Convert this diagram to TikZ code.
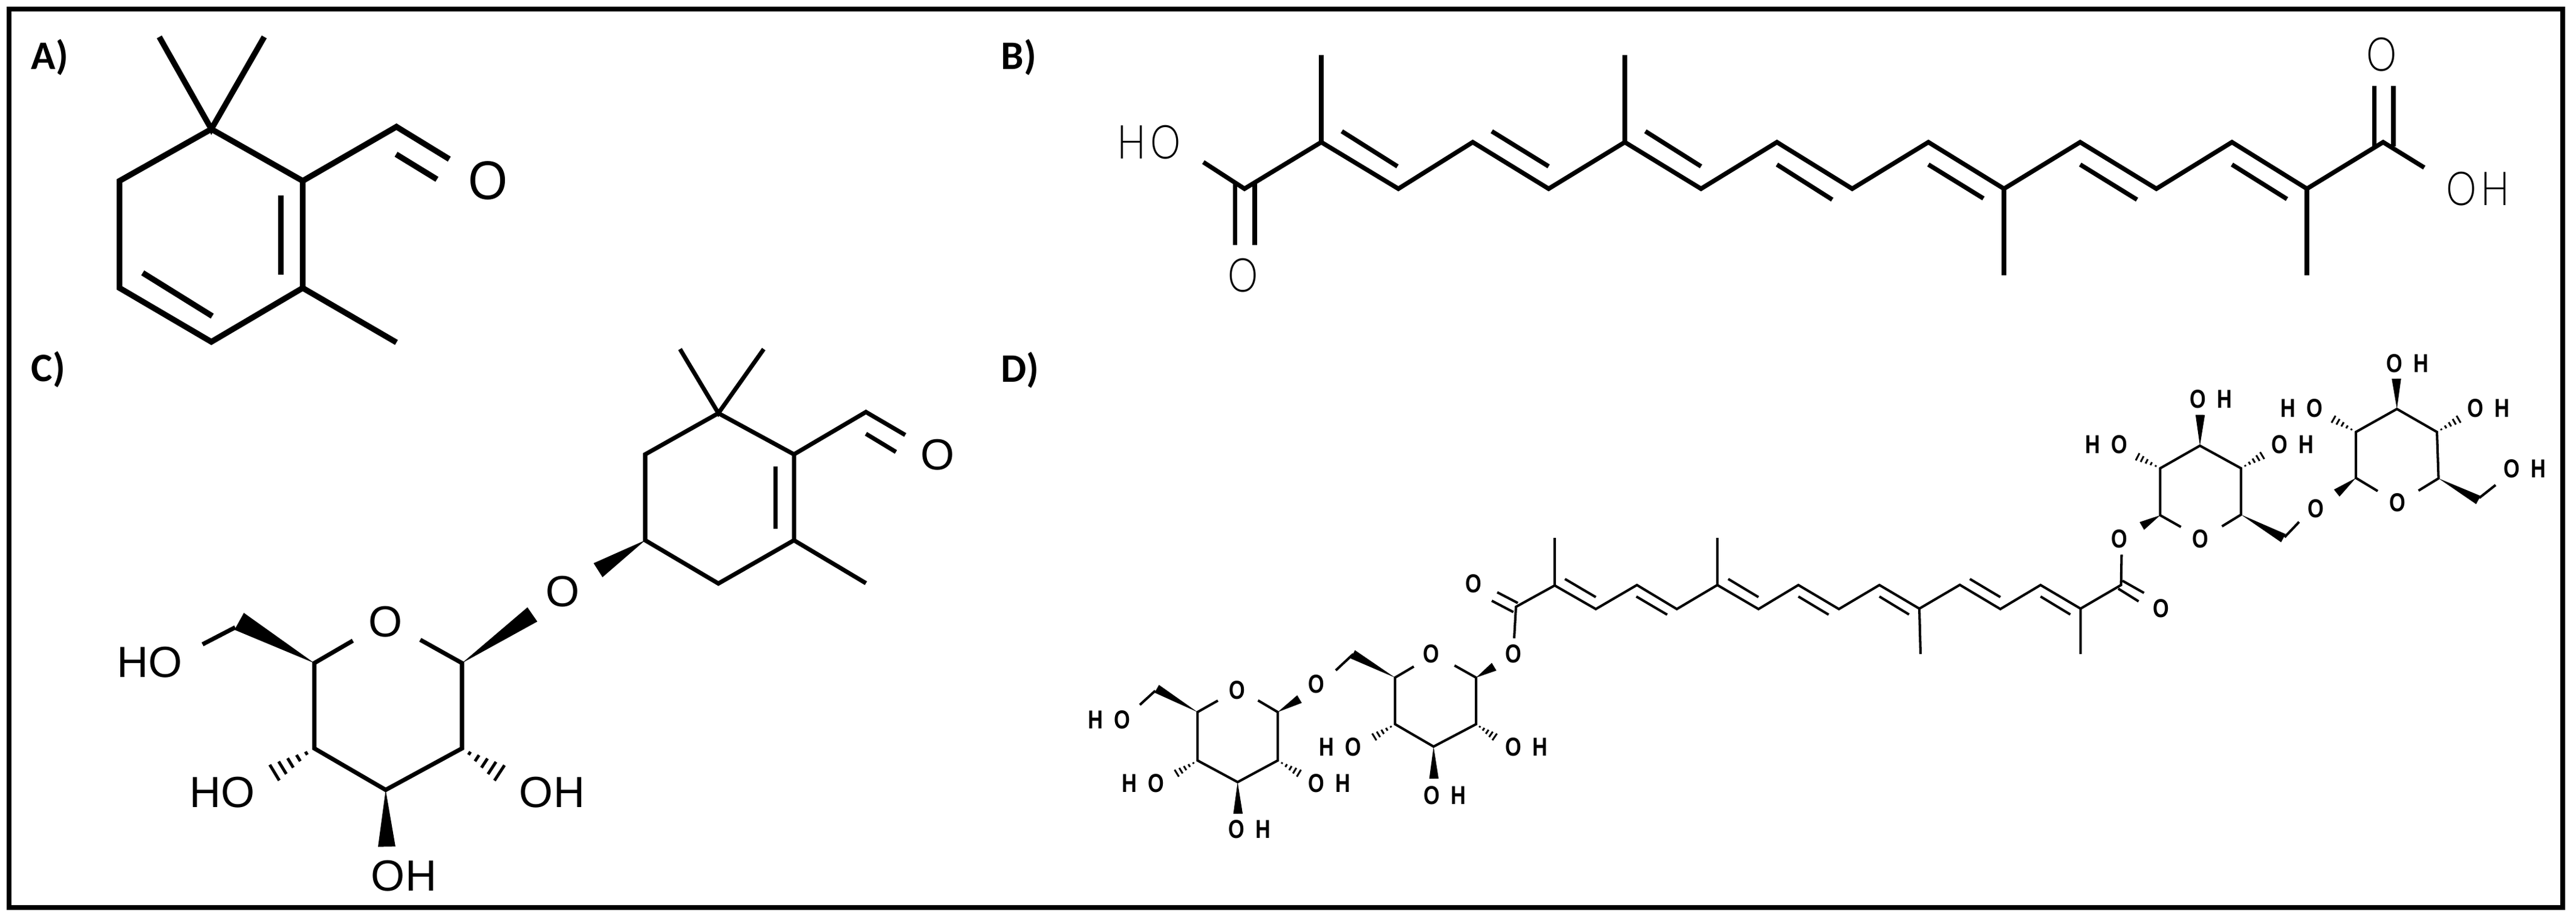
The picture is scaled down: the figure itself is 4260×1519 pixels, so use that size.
\documentclass[tikz,border=0pt]{standalone}
\usepackage{fontspec}
\usepackage{graphicx}
\usetikzlibrary{calc}
\setmainfont{Liberation Sans}
\newfontfamily\lblfont{Carlito}
\newfontfamily\thinfont{Lato Light}
\newcommand\pts[1]{\foreach \n/\xx/\yy in {#1}{\coordinate (\n) at (\xx,\yy);}}
\newcommand\wedgebond[3]{\fill ($(#2)!#3!90:(#1)$) -- (#1) -- ($(#2)!#3!-90:(#1)$) -- cycle;}
\newcommand\hashbond[4]{\foreach \t in {.2,.4,.6,.8,1}{\draw[line width=#4] ($(#1)!\t!($(#2)!#3!90:(#1)$)$) -- ($(#1)!\t!($(#2)!#3!-90:(#1)$)$);}}
\newcommand\dtext[2]{\scalebox{.8}[1]{#1\kern6.5pt #2}}
\newcommand\done[1]{\scalebox{.8}[1]{#1}}
\newcommand\btext[2]{\scalebox{.82}[1]{#1\kern2.6pt #2}}
\newcommand\bone[1]{\scalebox{.82}[1]{#1}}
\tikzset{
  framebox/.style={draw=black,line width=2.13pt,fill=white},
  bondA/.style={line width=2.7pt},
  bondB/.style={line width=2.1pt},
  bondC/.style={line width=2pt},
  bondD/.style={line width=1.15pt},
  panel/.style={anchor=base west,inner sep=0pt,font=\lblfont\bfseries\fontsize{19}{20}\selectfont},
  atomA/.style={inner sep=0pt,font=\fontsize{25.6}{26}\selectfont},
  atomB/.style={inner sep=0pt,font=\thinfont\fontsize{22}{23}\selectfont},
  atomC/.style={inner sep=0pt,font=\fontsize{20.5}{21}\selectfont},
  atomD/.style={inner sep=0pt,font=\bfseries\fontsize{12.2}{13}\selectfont},
}
\begin{document}
\begin{tikzpicture}[x=0.01cm,y=-0.01cm,line join=miter]
\useasboundingbox (0,0) rectangle (4260,1519);
\fill[white] (0,0) rectangle (4260,1519);
\draw[framebox] (15,15) rectangle (4238,1500);
% panel labels
\node[panel] (lblA) at (51,115) {A)};
\node[panel] (lblB) at (1655,115) {B)};
\node[panel] (lblC) at (51,631) {C)};
\node[panel] (lblD) at (1655,632) {D)};
% ---------- A
\pts{a1/349.5/213.4,am1/263.4/61,am2/437/61,a2/197.7/299,a3/197.7/476,a4/349.5/565,a5/500.6/476,a6/500.6/299,ad1/464.3/323,ad2/464.3/454.5,ad3/236/451,ad4/351/522.5,ach/655.6/209.5,ao1/743/263,ao2/655/255,ao3/722.6/296.4,ame/655.6/566}
\node[atomA] (aO) at (806.8,298.4) {\scalebox{.93}[1]{O}};
\draw[bondA] (a1)--(a2)--(a3)--(a4)--(a5)--(a6)--cycle;
\draw[bondA] (am1)--(a1)--(am2);
\draw[bondA] (ad1)--(ad2);
\draw[bondA] (ad3)--(ad4);
\draw[bondA] (a6)--(ach)--(ao1);
\draw[bondA] (ao2)--(ao3);
\draw[bondA] (a5)--(ame);
% ---------- B
\pts{b1/2058/312,bo/1990/268,bdl1/2042.7/303,bdl2/2042.7/405,bdr1/2075/303,bdr2/2075/405,
b2/2185/235,bm2/2185/91,b3/2312.5/312,b4/2435.5/235,b5/2561/312,b6/2687/235,bm6/2687/91,b7/2813/312,b8/2938.5/235,b9/3063/312,b10/3189/235,b11/3314/312,bm11/3314/455,b12/3440/235,b13/3566/312,b14/3691/235,b15/3815/312,bm15/3815/455,b16/3941/235,bo2/4009/277,
bi1/2219/217,bi2/2311/275,bi3/2467/217,bi4/2561/275,bi5/2721/217,bi6/2813/275,bi7/2938.5/272,bi8/3030/330,bi9/3189/272,bi10/3280/328,bi11/3440/272,bi12/3534/330,bi13/3691/272,bi14/3782/329,
bdl3/3926.6/242,bdl4/3926.6/142,bdr3/3958/242,bdr4/3958/142}
\node[atomB] (bHO) at (1900,235) {\btext{H}{O}};
\node[atomB] (bO1) at (2056,455) {\bone{O}};
\node[atomB] (bO2) at (3939,90) {\bone{O}};
\node[atomB] (bOH) at (4098,312) {\btext{O}{H}};
\draw[bondB] (bo)--(b1)--(b2)--(b3)--(b4)--(b5)--(b6)--(b7)--(b8)--(b9)--(b10)--(b11)--(b12)--(b13)--(b14)--(b15)--(b16)--(bo2);
\draw[bondB] (bdl1)--(bdl2) (bdr1)--(bdr2) (bdl3)--(bdl4) (bdr3)--(bdr4);
\draw[bondB] (b2)--(bm2) (b6)--(bm6) (b11)--(bm11) (b15)--(bm15);
\draw[bondB] (bi1)--(bi2) (bi3)--(bi4) (bi5)--(bi6) (bi7)--(bi8) (bi9)--(bi10) (bi11)--(bi12) (bi13)--(bi14);
% ---------- C
\pts{c1/1188/683,cm1/1124.5/577,cm2/1263/577,c2/1067/751,c3/1067/893,c4/1188/964.5,c5/1313/893,c6/1313/751,cd1/1282.6/770.6,cd2/1282.6/874,cch/1432/681,co1/1497/719,co2/1432/717,co3/1481.6/747,cme/1432/964,
cw1/989/942.5,s1/519.8/1096,s2/519.8/1237,s3/637.8/1305.6,s4/764/1237,s5/764/1096,so1/583.5/1059,so2/695/1057.5,sw1/880.4/1015.6,sw2/395.5/1027,sb1/389/1037,sb2/335/1065,sw3/639.5/1399.4,sh1/454/1277,sh2/826/1277.5}
\node[atomC] (cO1) at (1550.5,751.4) {O};
\node[atomC] (cO2) at (931,977.5) {O};
\node[atomC] (cO3) at (637.8,1027.5) {O};
\node[atomC] (cHO1) at (248,1095) {HO};
\node[atomC] (cHO2) at (368,1310) {HO};
\node[atomC] (cOH1) at (913,1310) {OH};
\node[atomC] (cOH2) at (668,1448) {OH};
\draw[bondC] (c1)--(c2)--(c3)--(c4)--(c5)--(c6)--cycle;
\draw[bondC] (cm1)--(c1)--(cm2);
\draw[bondC] (cd1)--(cd2);
\draw[bondC] (c6)--(cch)--(co1);
\draw[bondC] (co2)--(co3);
\draw[bondC] (c5)--(cme);
\wedgebond{c3}{cw1}{3.9pt}
\draw[bondC] (so1)--(s1)--(s2)--(s3)--(s4)--(s5)--(so2);
\wedgebond{s5}{sw1}{4.07pt}
\wedgebond{s1}{sw2}{4.55pt}
\draw[bondC] (sb1)--(sb2);
\wedgebond{s3}{sw3}{4.1pt}
\hashbond{s2}{sh1}{4.3pt}{1.4pt}
\hashbond{s4}{sh2}{4.3pt}{1.4pt}
% ---------- D chain
\pts{d1/2507/1003,do1/2504/1055,dd1/2476/979,dd2/2510/996.7,dd3/2467/993,dd4/2502.7/1011.7,
d2/2571/967.7,dm2/2571/889,d3/2639/1006.7,d4/2707/967,d5/2773/1006.7,d6/2840/967,dm6/2840/889,d7/2908/1006.7,d8/2974/967,d9/3041/1006.7,d10/3108/967,d11/3174/1006,dm11/3176/1081,d12/3241/966.7,d13/3308/1006.7,d14/3374.5/967,d15/3440.6/1006,dm15/3440.6/1081,d16/3507.6/967,do2/3508.5/916.7,
di1/2588/957,di2/2639/987,di3/2706/986,di4/2757/1016,di5/2858/957,di6/2908/987,di7/2974/986,di8/3024/1016,di9/3108/986,di10/3157/1015.7,di11/3257.6/957,di12/3308/987,di13/3374.5/986,di14/3423.7/1015.7,
de1/3510/960,de2/3545.5/980,de3/3503/973,de4/3536.6/994}
\node[atomD] (dO1) at (2437,965) {\done{O}};
\node[atomD] (dO2) at (3573.7,1006) {\done{O}};
\draw[bondD] (do1)--(d1)--(d2)--(d3)--(d4)--(d5)--(d6)--(d7)--(d8)--(d9)--(d10)--(d11)--(d12)--(d13)--(d14)--(d15)--(d16)--(do2);
\draw[bondD] (dd1)--(dd2) (dd3)--(dd4) (de1)--(de2) (de3)--(de4);
\draw[bondD] (d2)--(dm2) (d6)--(dm6) (d11)--(dm11) (d15)--(dm15);
\draw[bondD] (di1)--(di2) (di3)--(di4) (di5)--(di6) (di7)--(di8) (di9)--(di10) (di11)--(di12) (di13)--(di14);
% ---------- D sugar 1
\pts{e1/1980.4/1177,e2/1980.4/1257,e3/2046.7/1292.7,e4/2113/1257,e5/2113/1177,eo1/2014/1158,eo2/2080.4/1157.7,ew1/1913/1138.5,eb1/1910.5/1141.7,eb2/1885/1165,ew2/2149/1155.5,ew3/2047.3/1345,eh1/1946/1278,eh2/2148/1278}
\node[atomD] (eO1) at (2045.7,1140.7) {\done{O}};
\node[atomD] (eO2) at (2177,1130.7) {\done{O}};
\node[atomD] (eHO1) at (1834,1190) {\dtext{H}{O}};
\node[atomD] (eHO2) at (1890,1295) {\dtext{H}{O}};
\node[atomD] (eOH1) at (2198,1295) {\dtext{O}{H}};
\node[atomD] (eOH2) at (2066,1370.7) {\dtext{O}{H}};
\draw[bondD] (eo1)--(e1)--(e2)--(e3)--(e4)--(e5)--(eo2);
\wedgebond{e1}{ew1}{2.1pt}
\wedgebond{e5}{ew2}{2.1pt}
\wedgebond{e3}{ew3}{2.2pt}
\draw[bondD] (eb1)--(eb2);
\hashbond{e2}{eh1}{1.9pt}{.85pt}
\hashbond{e4}{eh2}{1.9pt}{.85pt}
% ---------- D sugar 2
\pts{f1/2307/1120,f2/2307/1197,f3/2370.7/1234,f4/2441/1197,f5/2441/1120,fo1/2338/1101.7,fo2/2405.4/1100,fw1/2237/1081.5,fb1/2238/1081,fb2/2209/1108,fw2/2470.8/1102,fw3/2371.3/1287,fh1/2272.7/1218,fh2/2471.7/1218}
\node[atomD] (fO1) at (2367,1080.7) {\done{O}};
\node[atomD] (fO2) at (2502.4,1080.7) {\done{O}};
\node[atomD] (fHO) at (2216,1235) {\dtext{H}{O}};
\node[atomD] (fOH1) at (2524,1235) {\dtext{O}{H}};
\node[atomD] (fOH2) at (2389,1315) {\dtext{O}{H}};
\draw[bondD] (fo1)--(f1)--(f2)--(f3)--(f4)--(f5)--(fo2);
\wedgebond{f1}{fw1}{2.2pt}
\wedgebond{f5}{fw2}{2.1pt}
\wedgebond{f3}{fw3}{2.2pt}
\draw[bondD] (fb1)--(fb2);
\hashbond{f2}{fh1}{1.9pt}{.85pt}
\hashbond{f4}{fh2}{1.9pt}{.85pt}
% ---------- D sugar 3
\pts{g1/3572.4/851.7,g2/3572.4/774,g3/3638/736.7,g4/3706/774,g5/3706/850.7,go1/3606.6/871,go2/3674.5/870,gw1/3542/869.4,gw2/3776/889.5,gb1/3778/888,gb2/3802/862.7,gw3/3638.5/685.7,gh1/3535/755,gh2/3741/753}
\node[atomD] (gO1) at (3504.6,890.7) {\done{O}};
\node[atomD] (gO2) at (3638.8,890.7) {\done{O}};
\node[atomD] (gO3) at (3830,840.7) {\done{O}};
\node[atomD] (gHO) at (3483,735) {\dtext{H}{O}};
\node[atomD] (gOH1) at (3791,735) {\dtext{O}{H}};
\node[atomD] (gOH2) at (3656,660) {\dtext{O}{H}};
\draw[bondD] (go1)--(g1)--(g2)--(g3)--(g4)--(g5)--(go2);
\wedgebond{g1}{gw1}{2.1pt}
\wedgebond{g5}{gw2}{2.2pt}
\wedgebond{g3}{gw3}{2.2pt}
\draw[bondD] (gb1)--(gb2);
\hashbond{g2}{gh1}{1.9pt}{.85pt}
\hashbond{g4}{gh2}{1.9pt}{.85pt}
% ---------- D sugar 4
\pts{h1/3896/790,h2/3896/714,h3/3963.8/676,h4/4030/714,h5/4032.6/790.7,ho1/3932/811.7,ho2/3999.5/811,hw1/3864.3/815,hw2/4098.5/826.5,hb1/4100/823,hb2/4127/801.7,hw3/3963/626,hh1/3859/693,hh2/4065.8/693}
\node[atomD] (hO1) at (3964.8,831) {\done{O}};
\node[atomD] (hHO) at (3806,675) {\dtext{H}{O}};
\node[atomD] (hOH1) at (4115,675) {\dtext{O}{H}};
\node[atomD] (hOH2) at (3981,600.5) {\dtext{O}{H}};
\node[atomD] (hOH3) at (4175,775) {\dtext{O}{H}};
\draw[bondD] (ho1)--(h1)--(h2)--(h3)--(h4)--(h5)--(ho2);
\wedgebond{h1}{hw1}{2.1pt}
\wedgebond{h5}{hw2}{2.2pt}
\wedgebond{h3}{hw3}{2.2pt}
\draw[bondD] (hb1)--(hb2);
\hashbond{h2}{hh1}{1.9pt}{.85pt}
\hashbond{h4}{hh2}{1.9pt}{.85pt}
\end{tikzpicture}
\end{document}
